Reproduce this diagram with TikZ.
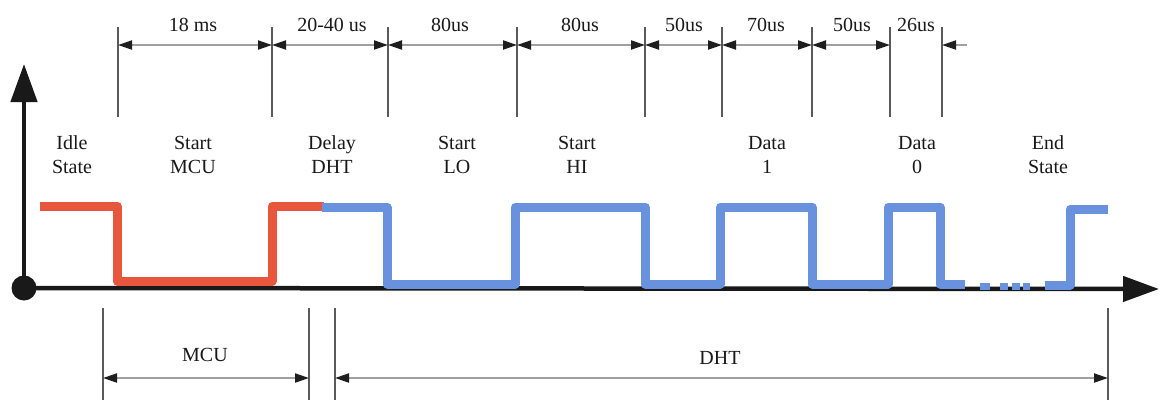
\documentclass[tikz,border=0pt]{standalone}
\usepackage{fontspec}
\setmainfont{Liberation Serif}
\usetikzlibrary{arrows.meta}
\definecolor{sigred}{RGB}{232,86,62}
\definecolor{sigblue}{RGB}{104,145,222}
\definecolor{dimgray}{RGB}{160,160,160}
\definecolor{tickgray}{RGB}{90,90,90}
\definecolor{txt}{RGB}{25,25,25}
\definecolor{headc}{RGB}{30,30,30}
\begin{document}
\begin{tikzpicture}[x=1pt,y=-1pt,
  lbl/.style={font=\fontsize{20}{24}\selectfont, text=txt, align=center, inner sep=0pt},
  tickline/.style={draw=tickgray, line width=1.8pt},
  dimline/.style={draw=dimgray, line width=2pt,
     arrows={Triangle[length=14pt,width=9pt,fill=headc,color=headc]-Triangle[length=14pt,width=9pt,fill=headc,color=headc]}},
  dimleft/.style={draw=dimgray, line width=2pt,
     arrows={Triangle[length=14pt,width=9pt,fill=headc,color=headc]-}},
  sig/.style={line width=9pt, line join=round},
  axisline/.style={draw=black!90, line width=4.5pt}
]
\useasboundingbox (0,0) rectangle (1163,400);
\fill[white] (0,0) rectangle (1163,400);

% top ticks
\foreach \n/\x in {1/118,2/272,3/388,4/517,5/645,6/722,7/812,8/890,9/942} {
  \coordinate (ta\n) at (\x,27);
  \coordinate (tb\n) at (\x,117);
  \coordinate (d\n) at (\x,45);
  \draw[tickline] (ta\n) -- (tb\n);
}
\coordinate (dend) at (967,45);
\draw[dimline] (d1) -- (d2);
\draw[dimline] (d2) -- (d3);
\draw[dimline] (d3) -- (d4);
\draw[dimline] (d4) -- (d5);
\draw[dimline] (d5) -- (d6);
\draw[dimline] (d6) -- (d7);
\draw[dimline] (d7) -- (d8);
\draw[dimleft] (d9) -- (dend);

% top labels
\node[lbl] (l1) at (193,25) {18 ms};
\node[lbl] (l2) at (332,25) {20-40 us};
\node[lbl] (l3) at (450,25) {80us};
\node[lbl] (l4) at (580,25) {80us};
\node[lbl] (l5) at (684,25) {50us};
\node[lbl] (l6) at (766,25) {70us};
\node[lbl] (l7) at (852,25) {50us};
\node[lbl] (l8) at (916,25) {26us};

% state labels
\node[lbl] (s1) at (72,155) {Idle\\State};
\node[lbl] (s2) at (193,155) {Start\\MCU};
\node[lbl] (s3) at (332,155) {Delay\\DHT};
\node[lbl] (s4) at (457,155) {Start\\LO};
\node[lbl] (s5) at (577,155) {Start\\HI};
\node[lbl] (s6) at (767,155) {Data\\1};
\node[lbl] (s7) at (917,155) {Data\\0};
\node[lbl] (s8) at (1048,155) {End\\State};

% axes
\coordinate (o) at (24,288);
\coordinate (ytop) at (24,64);
\coordinate (xend) at (1159,289);
\draw[axisline, -{Triangle[length=38pt,width=26pt]}] (o) -- (ytop);
\draw[axisline, -{Triangle[length=36pt,width=25pt]}] (o) -- (xend);
\fill[black!90] (o) circle (12.5);

% signal
\draw[sig, sigred] (40,206) -- (117,206) -- (117,281) -- (272,281) -- (272,206) -- (324,206);
\draw[sig, sigblue] (322,207) -- (387,207) -- (387,284) -- (515,284) -- (515,207) -- (645,207)
  -- (645,284) -- (720,284) -- (720,207) -- (812,207) -- (812,284) -- (888,284) -- (888,207)
  -- (940,207) -- (940,284) -- (965,284);
\draw[sigblue, line width=7pt] (980,286) -- (990,286) (1000,286) -- (1008,286)
  (1012,286) -- (1020,286) (1023,286) -- (1030,286);
\draw[sig, sigblue] (1045,285) -- (1070,285) -- (1070,209) -- (1108,209);

% bottom ticks
\foreach \n/\x in {1/103,2/309,3/335,4/1108} {
  \coordinate (ba\n) at (\x,308);
  \coordinate (bb\n) at (\x,400);
  \coordinate (e\n) at (\x,378);
  \draw[tickline] (ba\n) -- (bb\n);
}
\draw[dimline] (e1) -- (e2);
\draw[dimline] (e3) -- (e4);
\node[lbl] (mcu) at (205,355) {MCU};
\node[lbl] (dht) at (720,358) {DHT};
\end{tikzpicture}
\end{document}
